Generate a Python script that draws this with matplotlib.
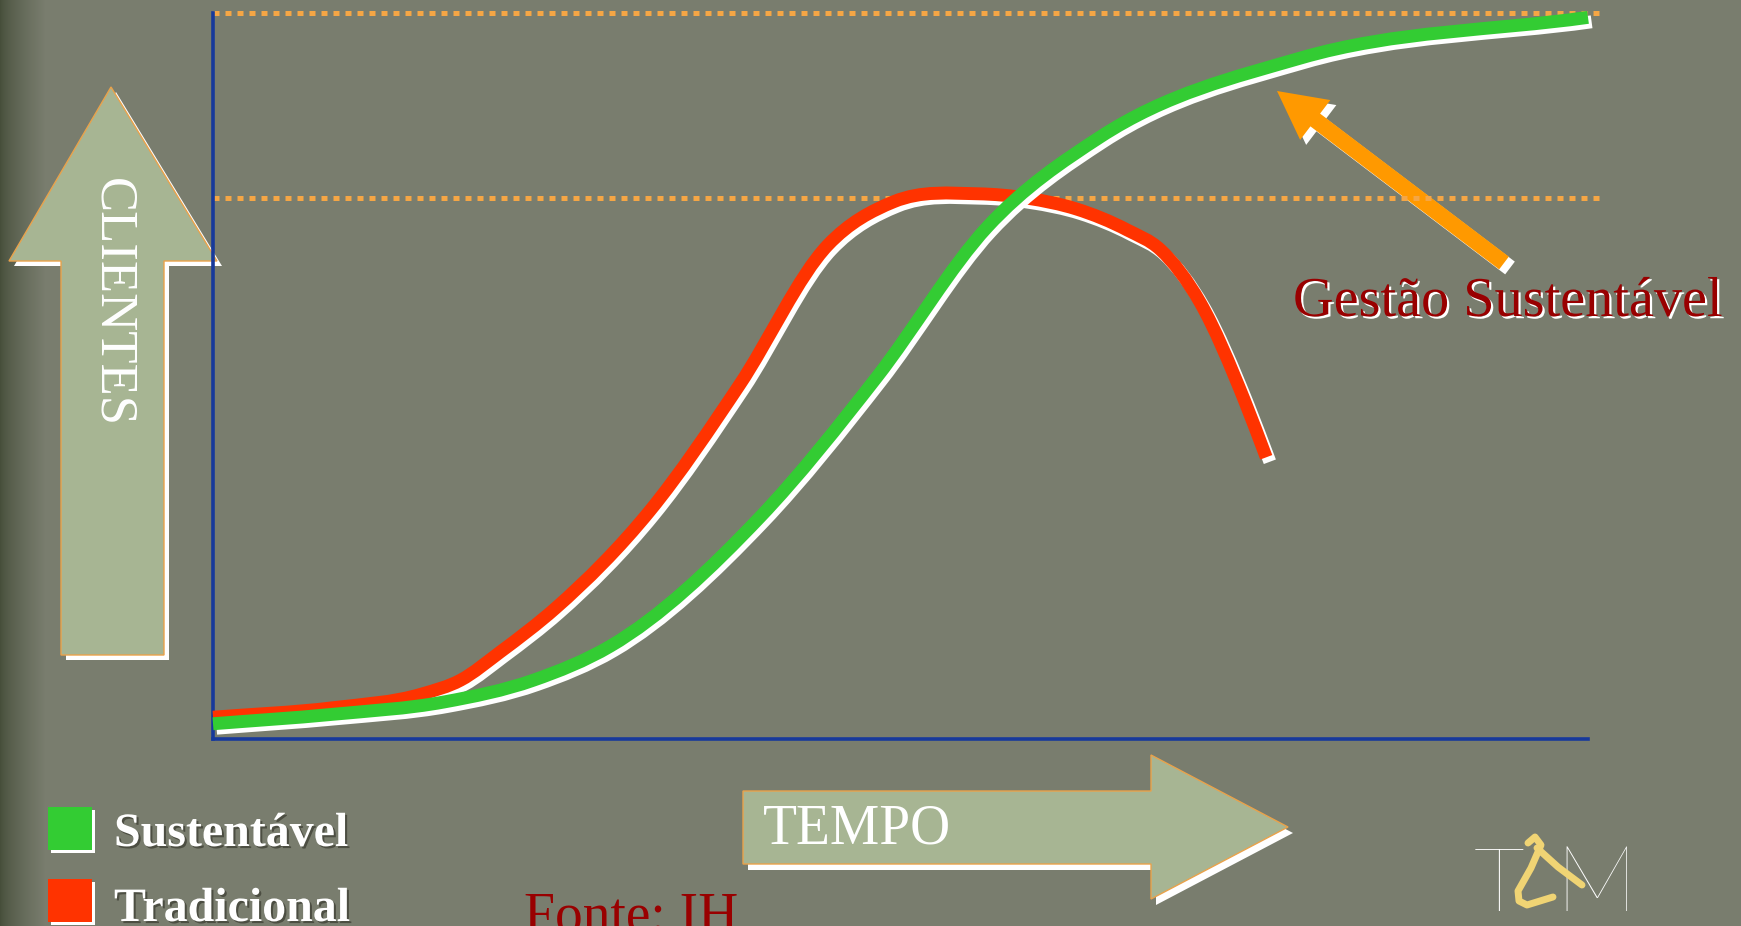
import numpy as np
import matplotlib
matplotlib.use('Agg')
import matplotlib.pyplot as plt
import matplotlib.patches as mpatches
import matplotlib.patheffects as pe
from matplotlib.path import Path

# ---------------- data ----------------
time_sust = [0, 8.7, 16.8, 23.3, 28.9, 39.8, 48.3, 56.3, 64.5, 79.1, 100]
clients_sust = [2.1, 3.4, 5.1, 8.1, 12.8, 30.6, 49.9, 70.5, 82.9, 93.8, 99.4]

time_trad = [0, 8.7, 15.2, 18.0, 20.9, 24.9, 31.8, 38.3, 44.7, 49.5, 55.6, 59.2,
             62.8, 66.5, 68.9, 71.8, 75.0, 76.6]
clients_trad = [3.0, 4.3, 6.2, 8.1, 12.0, 18.0, 31.5, 48.8, 68.0, 74.0, 75.1, 74.5,
                73.0, 70.1, 67.4, 60.1, 46.7, 38.8]

reference_levels = [100, 74.5]
series_names = ['Sustentável', 'Tradicional']
series_colors = ['#33cc33', '#ff3300']
x_label = 'TEMPO'
y_label = 'CLIENTES'
annotation = 'Gestão Sustentável'
source = 'Fonte: IH'


def smooth_path(x, y):
    """Smooth cubic (Hermite) curve through the given points, as a Bezier path."""
    x = np.asarray(x, float)
    y = np.asarray(y, float)
    h = np.diff(x)
    d = np.diff(y) / h
    m = np.empty_like(x)
    m[0], m[-1] = d[0], d[-1]
    m[1:-1] = (d[:-1] * h[1:] + d[1:] * h[:-1]) / (h[:-1] + h[1:])
    verts = [(x[0], y[0])]
    codes = [Path.MOVETO]
    for i in range(len(x) - 1):
        verts += [(x[i] + h[i] / 3, y[i] + m[i] * h[i] / 3),
                  (x[i + 1] - h[i] / 3, y[i + 1] - m[i + 1] * h[i] / 3),
                  (x[i + 1], y[i + 1])]
        codes += [Path.CURVE4] * 3
    return Path(np.array(verts), codes)


# ---------------- figure ----------------
W, H = 1741, 926
fig = plt.figure(figsize=(W / 100, H / 100), dpi=100)

bg = fig.add_axes([0, 0, 1, 1])
bg.set_xlim(0, W)
bg.set_ylim(H, 0)
bg.axis('off')

base = np.array([121, 125, 110]) / 255
dark = np.array([70, 78, 58]) / 255
xs = np.arange(W)
t = np.clip(xs / 45.0, 0, 1) ** 0.7
row = dark[None, :] * (1 - t[:, None]) + base[None, :] * t[:, None]
img = np.repeat(row[None, :, :], 2, axis=0)
bg.imshow(img, extent=[0, W, H, 0], aspect='auto', zorder=0)

SERIF = ['Liberation Serif', 'DejaVu Serif']
arrow_fill = '#a7b593'
arrow_edge = '#eaa24a'

# CLIENTES arrow
clients_poly = np.array([(111, 87), (217, 261), (164, 261), (164, 655),
                         (61, 655), (61, 261), (9, 261)], dtype=float)
bg.add_patch(mpatches.Polygon(clients_poly + [5, 5], closed=True, fc='white', ec='none', zorder=2))
bg.add_patch(mpatches.Polygon(clients_poly, closed=True, fc=arrow_fill, ec=arrow_edge, lw=1, zorder=3))
bg.text(112, 302, y_label, rotation=-90, ha='center', va='center', fontsize=38,
        color='white', family=SERIF, zorder=4)

# TEMPO arrow
tempo_poly = np.array([(743, 791), (1151, 791), (1151, 755), (1288, 827),
                       (1151, 899), (1151, 864), (743, 864)], dtype=float)
bg.add_patch(mpatches.Polygon(tempo_poly + [5, 6], closed=True, fc='white', ec='none', zorder=2))
bg.add_patch(mpatches.Polygon(tempo_poly, closed=True, fc=arrow_fill, ec=arrow_edge, lw=1, zorder=3))
bg.text(763, 829, x_label, ha='left', va='center', fontsize=40, color='white',
        family=SERIF, zorder=4)

# ---------------- main axes ----------------
L, R, B, T = 213, 1588, 739, 13
ax = fig.add_axes([L / W, 1 - B / H, (R - L) / W, (B - T) / H])
ax.set_xlim(0, 100)
ax.set_ylim(0, 100)
ax.patch.set_alpha(0)
for s in ['top', 'right']:
    ax.spines[s].set_visible(False)
for s in ['left', 'bottom']:
    ax.spines[s].set_color('#17399b')
    ax.spines[s].set_linewidth(2.6)
ax.set_xticks([])
ax.set_yticks([])

ax.hlines(reference_levels, 0, 100.9, colors='#f5a645', linewidth=3.6,
          linestyles=[(0, (1.2, 1.2))], clip_on=False, zorder=1)

for x, y, c in [(time_trad, clients_trad, series_colors[1]),
                (time_sust, clients_sust, series_colors[0])]:
    patch = mpatches.PathPatch(smooth_path(x, y), transform=ax.transData, fill=False,
                               ec=c, lw=9.3, capstyle='butt', joinstyle='round',
                               clip_on=False, zorder=3,
                               path_effects=[pe.Stroke(offset=(2.6, -3.2), foreground='white'),
                                             pe.Normal()])
    ax.add_patch(patch)

# ---------------- annotation arrow ----------------
tail = (1504, 263)
tip = (1277, 91)
for off, col, z in [((6, 5), 'white', 5), ((0, 0), '#ff9900', 6)]:
    bg.add_patch(mpatches.FancyArrow(tail[0] + off[0], tail[1] + off[1],
                                     tip[0] - tail[0], tip[1] - tail[1],
                                     width=16, head_width=50, head_length=48,
                                     length_includes_head=True, fc=col, ec='none', zorder=z))

bg.text(1293, 316, annotation, ha='left', va='baseline', fontsize=40.5, color='#990000',
        family=SERIF, zorder=6,
        path_effects=[pe.SimplePatchShadow(offset=(1.6, -1.6), shadow_rgbFace='white', alpha=1),
                      pe.Normal()])

# ---------------- legend ----------------
legend_rows = [(807, 846), (879, 921)]
for name, col, (ytop, ybase) in zip(series_names, series_colors, legend_rows):
    bg.add_patch(mpatches.Rectangle((51, ytop + 3), 44, 43, fc='white', ec='none', zorder=5))
    bg.add_patch(mpatches.Rectangle((48, ytop), 44, 43, fc=col, ec='none', zorder=6))
    bg.text(114, ybase, name, ha='left', va='baseline', fontsize=34.5, fontweight='bold',
            color='white', family=SERIF, zorder=6,
            path_effects=[pe.SimplePatchShadow(offset=(1.5, -1.5), shadow_rgbFace='#3a3a30', alpha=0.7),
                          pe.Normal()])

bg.text(524, 931, source, ha='left', va='baseline', fontsize=40, color='#990000',
        family=SERIF, zorder=6)

# ---------------- logo ----------------
bg.text(1499, 911, 'T', ha='center', va='baseline', fontsize=64, color='white',
        family=['Lato', 'DejaVu Sans'], fontweight='light', zorder=6)
bg.text(1596, 911, 'M', ha='center', va='baseline', fontsize=66, color='white',
        family=['Lato', 'DejaVu Sans'], fontweight='light', zorder=6)
logo_a = np.array([(1528, 843), (1535, 837), (1541, 845), (1531, 868), (1518, 891),
                   (1519, 901), (1527, 905), (1553, 897)])
logo_b = np.array([(1537, 848), (1558, 867), (1582, 885)])
for seg in (logo_a, logo_b):
    bg.plot(seg[:, 0], seg[:, 1], color='#f0d474', lw=5, solid_capstyle='round',
            solid_joinstyle='round', zorder=7)

fig.savefig('out.png', dpi=100)
